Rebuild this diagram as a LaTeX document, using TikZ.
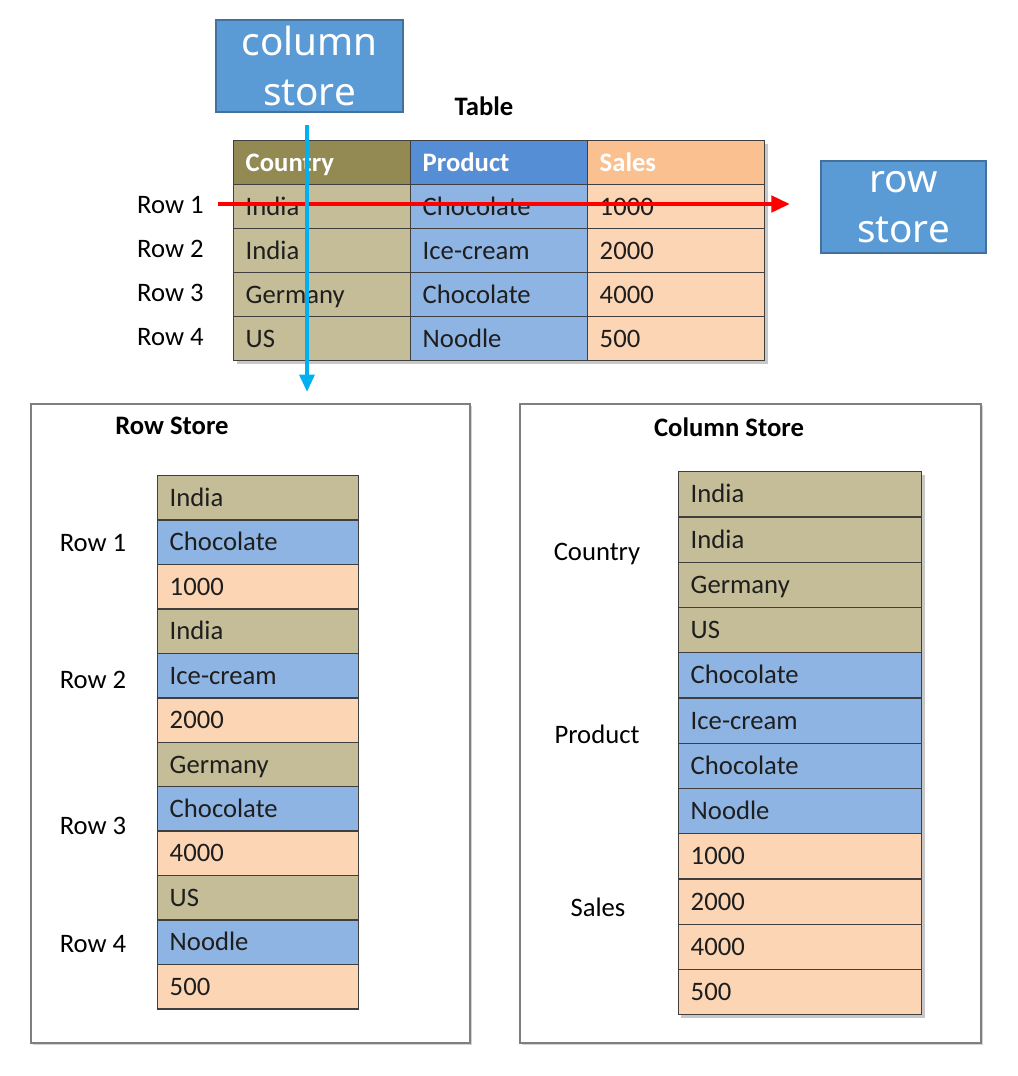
\documentclass[tikz,border=0pt]{standalone}
\usepackage{fontspec}
\setmainfont{Carlito}
\newfontfamily\boxfont{Noto Sans}
\usetikzlibrary{arrows.meta,shadows}
\definecolor{cCH}{HTML}{938953}
\definecolor{cPH}{HTML}{558ED5}
\definecolor{cSH}{HTML}{FAC090}
\definecolor{cC}{HTML}{C4BD97}
\definecolor{cP}{HTML}{8EB4E3}
\definecolor{cS}{HTML}{FCD5B5}
\definecolor{boxblue}{HTML}{5B9BD5}
\definecolor{boxline}{HTML}{41719C}
\definecolor{cellline}{HTML}{3F3F3F}
\definecolor{celltext}{HTML}{1E1E1E}
\definecolor{framegray}{HTML}{7F7F7F}
\definecolor{arrowcyan}{HTML}{00B0F0}
\begin{document}
\begin{tikzpicture}[x=0.75pt,y=-0.75pt,
  cellbase/.style={draw=cellline, line width=1.1pt, anchor=north west, inner xsep=9pt, inner ysep=0pt,
    align=left, text height=12.9pt, text depth=0pt, font=\fontsize{20}{24}\selectfont, text=celltext},
  tcell/.style={cellbase, minimum height=33pt, text width=114.75pt},
  thead/.style={tcell, font=\fontsize{20}{24}\selectfont\bfseries, text=white},
  rcell/.style={cellbase, minimum height=33.3pt, text width=132.75pt},
  ccell/.style={cellbase, minimum height=33.94pt, text width=164.25pt},
  lbl/.style={inner sep=0pt, text height=12.9pt, text depth=0pt, font=\fontsize{20}{24}\selectfont, text=black},
  ttl/.style={lbl, font=\fontsize{20}{24}\selectfont\bfseries},
  bluebox/.style={draw=boxline, line width=1.6pt, fill=boxblue, text=white, inner sep=0pt, align=center,
    font=\boxfont\fontsize{29}{38}\selectfont},
  frame/.style={draw=framegray, line width=1.2pt, fill=white, anchor=north west, inner sep=0pt,
    minimum height=479.25pt, drop shadow={shadow xshift=1.5pt, shadow yshift=-1.5pt, opacity=0.35}},
  shade/.style={fill=black, opacity=0.22}
]
\useasboundingbox (0,0) rectangle (1018,1076);

% blue label boxes
\node[bluebox, minimum width=140.25pt, minimum height=69pt] (colbox) at (309.5,66) {column\\store};
\node[bluebox, minimum width=123.75pt, minimum height=69pt] (rowbox) at (903.5,207) {row\\store};

% table
\node[ttl] (tabletitle) at (484,107) {Table};
\fill[shade] (237,144) rectangle (768,364);
\node[thead, fill=cCH] (th1) at (233,140) {Country};
\node[thead, fill=cPH] (th2) at (410,140) {Product};
\node[thead, fill=cSH] (th3) at (587,140) {Sales};
\foreach \a/\b/\c [count=\r] in {India/Chocolate/1000, India/Ice-cream/2000, Germany/Chocolate/4000, US/Noodle/500}{
  \node[tcell, fill=cC] (t\r a) at (233,{140+44*\r}) {\a};
  \node[tcell, fill=cP] (t\r b) at (410,{140+44*\r}) {\b};
  \node[tcell, fill=cS] (t\r c) at (587,{140+44*\r}) {\c};
  \node[lbl, anchor=east] (tl\r) at (204,{140+44*\r+21}) {Row \r};
}

% arrows
\coordinate (redstart) at (218,204);
\coordinate (redend) at (790,204);
\draw[line width=3.6pt, red, -{Triangle[length=14pt,width=12pt]}] (redstart) -- (redend);
\coordinate (bluestart) at (307,125);
\coordinate (blueend) at (307,392);
\draw[line width=3pt, arrowcyan, -{Triangle[length=13pt,width=11pt]}] (bluestart) -- (blueend);

% Row Store frame
\node[frame, minimum width=329.25pt] (rsframe) at (30,403) {};
\node[ttl] (rstitle) at (172,426) {Row Store};
\foreach \t/\c [count=\i from 0] in {India/cC, Chocolate/cP, 1000/cS, India/cC, Ice-cream/cP, 2000/cS,
    Germany/cC, Chocolate/cP, 4000/cS, US/cC, Noodle/cP, 500/cS}{
  \node[rcell, fill=\c] (rs\i) at (157,{475+44.42*\i}) {\t};
}
\node[lbl] (rl1) at (93,543) {Row 1};
\node[lbl] (rl2) at (93,680) {Row 2};
\node[lbl] (rl3) at (93,826) {Row 3};
\node[lbl] (rl4) at (93,944) {Row 4};

% Column Store frame
\node[frame, minimum width=345.75pt] (csframe) at (519,403) {};
\node[ttl] (cstitle) at (729,428) {Column Store};
\fill[shade] (681,475) rectangle (925,1018);
\foreach \t/\c [count=\i from 0] in {India/cC, India/cC, Germany/cC, US/cC, Chocolate/cP, Ice-cream/cP,
    Chocolate/cP, Noodle/cP, 1000/cS, 2000/cS, 4000/cS, 500/cS}{
  \node[ccell, fill=\c] (cs\i) at (678,{471+45.25*\i}) {\t};
}
\node[lbl] (cl1) at (597,552) {Country};
\node[lbl] (cl2) at (597,735) {Product};
\node[lbl] (cl3) at (598,908) {Sales};
\end{tikzpicture}
\end{document}
